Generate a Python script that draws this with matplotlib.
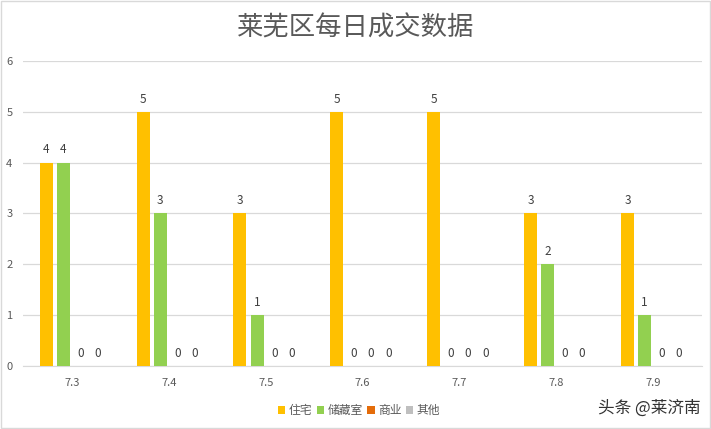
import matplotlib.pyplot as plt
import numpy as np

plt.rcParams['font.family'] = ['Noto Sans CJK SC', 'DejaVu Sans']

dates = ['7.3', '7.4', '7.5', '7.6', '7.7', '7.8', '7.9']
zhuzhai = [4, 5, 3, 5, 5, 3, 3]
chucangshi = [4, 3, 1, 0, 0, 2, 1]
shangye = [0, 0, 0, 0, 0, 0, 0]
qita = [0, 0, 0, 0, 0, 0, 0]

series = [('住宅', zhuzhai, '#FFC000'),
          ('储藏室', chucangshi, '#92D050'),
          ('商业', shangye, '#E46C0A'),
          ('其他', qita, '#BFBFBF')]

fig = plt.figure(figsize=(7.11, 4.29), dpi=100)
ax = fig.add_axes([0.033, 0.147, 0.954, 0.711])

x = np.arange(len(dates))
w = 0.134
step = 0.177
for i, (name, vals, c) in enumerate(series):
    pos = x + (i - 1.5) * step
    ax.bar(pos, vals, width=w, color=c, label=name, zorder=3)
    # value labels above every bar
    for p, v in zip(pos, vals):
        ax.text(p, v + 0.12, str(v), ha='center', va='bottom',
                fontsize=8.5, color='#404040', zorder=4)

ax.set_xlim(-0.5, len(dates) - 0.5)
ax.set_ylim(0, 6)
ax.set_yticks(range(7))
ax.set_xticks(x)
ax.set_xticklabels(dates)
ax.tick_params(axis='both', length=0, labelsize=8, labelcolor='#595959')
ax.tick_params(axis='x', pad=9)
ax.tick_params(axis='y', pad=8)
ax.grid(axis='y', color='#D9D9D9', linewidth=0.9, zorder=0)
for s in ['top', 'right', 'left']:
    ax.spines[s].set_visible(False)
ax.spines['bottom'].set_color('#D9D9D9')

fig.text(0.5, 0.935, '莱芜区每日成交数据', ha='center', va='center', fontsize=19,
         color='#595959', fontweight='light')

ax.legend(loc='upper center', bbox_to_anchor=(0.495, -0.09), ncol=4, frameon=False,
          fontsize=8.5, handlelength=0.6, handleheight=0.6, handletextpad=0.3,
          columnspacing=0.4, labelcolor='#595959')

fig.text(0.985, 0.048, '头条 @莱济南', ha='right', va='center', fontsize=12,
         color='#333333')

fig.patches.append(plt.Rectangle((0.002, 0.002), 0.996, 0.996, transform=fig.transFigure,
                                 fill=False, edgecolor='#D9D9D9', linewidth=1))

fig.savefig('out.png', dpi=100)
